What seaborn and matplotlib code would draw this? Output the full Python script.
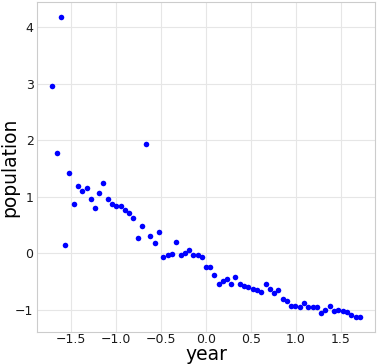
import pandas as pd
import matplotlib
matplotlib.use("Agg")
import matplotlib.pyplot as plt
import seaborn as sns

# standardized year vs standardized population
year = [-1.709, -1.660, -1.617, -1.569, -1.520, -1.472, -1.424, -1.376, -1.328,
        -1.283, -1.236, -1.187, -1.142, -1.094, -1.046, -0.998, -0.950, -0.902,
        -0.858, -0.809, -0.761, -0.717, -0.664, -0.620, -0.572, -0.524, -0.476,
        -0.428, -0.380, -0.331, -0.283, -0.239, -0.191, -0.142, -0.094, -0.047,
        0.000, 0.047, 0.094, 0.142, 0.186, 0.234, 0.283, 0.328, 0.376, 0.424,
        0.472, 0.520, 0.569, 0.617, 0.664, 0.709, 0.758, 0.806, 0.853, 0.902,
        0.947, 0.994, 1.042, 1.091, 1.139, 1.187, 1.231, 1.280, 1.328, 1.376,
        1.424, 1.472, 1.520, 1.569, 1.617, 1.664, 1.709]
population = [2.96, 1.78, 4.18, 0.15, 1.42, 0.87, 1.19, 1.11, 1.16,
              0.96, 0.81, 1.06, 1.24, 0.97, 0.88, 0.84, 0.84, 0.77,
              0.71, 0.62, 0.28, 0.48, 1.93, 0.31, 0.18, 0.38, -0.06,
              -0.035, -0.012, 0.20, -0.035, 0.01, 0.058, -0.03, -0.03, -0.071,
              -0.248, -0.248, -0.372, -0.538, -0.478, -0.443, -0.538, -0.414, -0.543, -0.573,
              -0.590, -0.627, -0.637, -0.673, -0.538, -0.632, -0.697, -0.644, -0.803, -0.844,
              -0.933, -0.933, -0.938, -0.874, -0.945, -0.945, -0.938, -1.051, -0.991, -0.920,
              -1.009, -1.000, -1.009, -1.039, -1.080, -1.115, -1.122]

df = pd.DataFrame({"year": year, "population": population})

sns.set_style("whitegrid", {"axes.edgecolor": "0.8", "grid.color": "0.9",
                            "text.color": "black", "axes.labelcolor": "black",
                            "xtick.color": "0.1", "ytick.color": "0.1"})
plt.rcParams["font.family"] = ["DejaVu Sans"]

fig, ax = plt.subplots(figsize=(3.78, 3.64), dpi=100)
sns.scatterplot(x="year", y="population", data=df, color="blue", s=16,
                linewidth=0, ax=ax)
ax.set_xticks([-1.5, -1.0, -0.5, 0.0, 0.5, 1.0, 1.5])
ax.tick_params(labelsize=9, length=0)
ax.tick_params(axis="x", pad=1)
ax.tick_params(axis="y", pad=2.5)
ax.set_xlabel("year", fontsize=13.5, labelpad=-1)
ax.set_ylabel("population", fontsize=13.5, labelpad=-3)
plt.subplots_adjust(left=0.098, right=0.992, top=0.995, bottom=0.088)
plt.savefig("out.png")
